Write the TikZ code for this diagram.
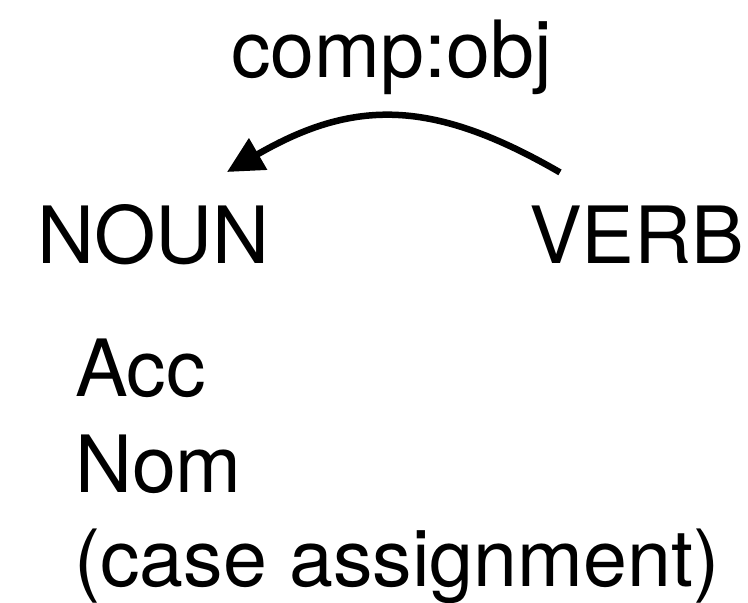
\documentclass[tikz,border=0pt]{standalone}
\usepackage{fontspec}
\setmainfont{TeX Gyre Heros}
\usetikzlibrary{arrows.meta,calc}

\begin{document}
\begin{tikzpicture}[x=1pt,y=-1pt,
  word/.style={anchor=base west,inner sep=0pt,outer sep=0pt,
    font=\fontsize{79}{96}\selectfont},
  deparc/.style={line width=6.5pt,
    -{Triangle[length=36pt,width=35pt]}}]
  \useasboundingbox (0,0) rectangle (748,603);

  % words of the dependency pair
  \node[word] (noun) at (37,263) {NOUN};
  \node[word] (verb) at (529,263) {VERB};

  % relation label
  \node[word] (rel) at (231,77) {comp:obj};

  % case features listed under the noun
  \node[word] (acc)  at (75,396) {Acc};
  \node[word] (nom)  at (75,492) {Nom};
  \node[word] (case) at (74,586) {(case assignment)};

  % arc from the head to its dependent
  \coordinate (arcstart) at ($(verb.north west)+(31,-33)$);
  \coordinate (arcend)   at ($(noun.north west)+(190,-32)$);
  \draw[deparc] (arcstart) .. controls ($(arcstart)+(-127,-73.5)$)
    and ($(arcend)+(127,-73.5)$) .. (arcend);
\end{tikzpicture}
\end{document}
